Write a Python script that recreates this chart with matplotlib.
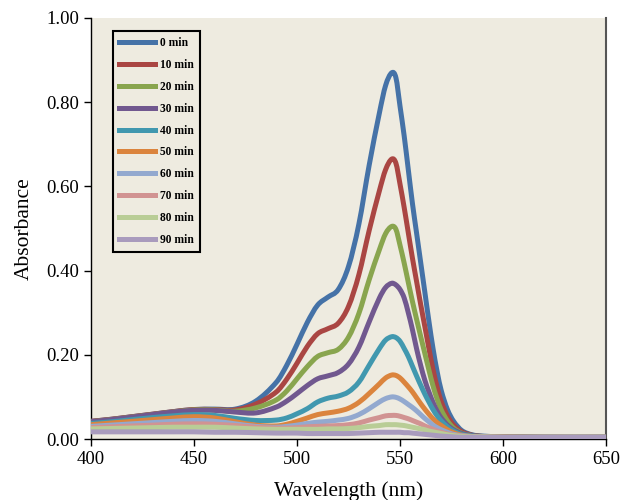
import numpy as np
import matplotlib
matplotlib.use("Agg")
import matplotlib.pyplot as plt
from matplotlib.path import Path
from matplotlib.patches import PathPatch

# wavelength grid (nm)
wavelength = [400, 410, 420, 430, 440, 450, 460, 470, 480, 490,
              495, 500, 505, 510, 515, 520, 525, 530, 535, 540,
              543, 546, 548, 550, 552, 554, 556, 558, 560, 562,
              564, 566, 568, 570, 573, 576, 580, 585, 590, 600,
              620, 650]

labels = ["0 min", "10 min", "20 min", "30 min", "40 min",
          "50 min", "60 min", "70 min", "80 min", "90 min"]

a_0 = [.042, .047, .053, .059, .065, .070, .071, .071, .090, .135,
       .175, .225, .277, .318, .337, .355, .410, .510, .650, .775,
       .840, .870, .858, .790, .720, .640, .560, .490, .420, .350,
       .280, .215, .160, .115, .070, .042, .020, .010, .007, .005,
       .004, .004]
a_10 = [.042, .047, .053, .059, .065, .070, .070, .069, .083, .112,
        .142, .180, .220, .250, .262, .275, .315, .390, .495, .590,
        .640, .665, .655, .605, .550, .490, .430, .375, .320, .268,
        .215, .165, .123, .089, .055, .033, .017, .009, .006, .005,
        .004, .004]
a_20 = [.041, .046, .052, .058, .064, .069, .069, .066, .074, .093,
        .114, .143, .172, .196, .205, .213, .242, .298, .378, .450,
        .488, .505, .498, .460, .418, .372, .327, .285, .244, .204,
        .164, .126, .095, .069, .043, .026, .014, .008, .006, .005,
        .004, .004]
a_30 = [.041, .046, .052, .058, .064, .068, .068, .064, .062, .076,
        .090, .108, .127, .143, .150, .158, .178, .218, .278, .335,
        .360, .370, .366, .355, .335, .300, .260, .215, .175, .140,
        .112, .087, .066, .050, .033, .022, .013, .008, .006, .005,
        .004, .004]
a_40 = [.037, .041, .046, .051, .055, .058, .056, .049, .044, .045,
        .050, .060, .072, .088, .097, .102, .112, .135, .175, .215,
        .235, .243, .241, .232, .215, .196, .173, .150, .128, .107,
        .088, .070, .055, .043, .029, .019, .011, .007, .005, .005,
        .004, .004]
a_50 = [.034, .038, .042, .046, .050, .053, .050, .041, .033, .031,
        .035, .042, .050, .058, .062, .066, .073, .087, .108, .131,
        .145, .152, .151, .145, .135, .124, .112, .098, .084, .071,
        .059, .048, .039, .032, .022, .015, .009, .006, .005, .005,
        .004, .004]
a_60 = [.030, .033, .036, .039, .042, .044, .042, .036, .030, .028,
        .030, .033, .037, .040, .042, .045, .049, .058, .072, .088,
        .096, .100, .099, .095, .089, .082, .075, .067, .058, .049,
        .041, .033, .027, .022, .016, .011, .008, .006, .005, .004,
        .004, .004]
a_70 = [.027, .029, .031, .033, .035, .036, .035, .032, .028, .026,
        .026, .027, .029, .030, .031, .032, .034, .038, .045, .051,
        .055, .056, .056, .054, .051, .048, .044, .040, .036, .031,
        .027, .023, .019, .016, .012, .009, .007, .005, .005, .004,
        .004, .004]
a_80 = [.024, .025, .026, .027, .028, .028, .028, .026, .024, .023,
        .023, .023, .023, .023, .024, .024, .025, .027, .030, .032,
        .034, .034, .034, .033, .032, .030, .028, .026, .024, .022,
        .019, .017, .015, .013, .010, .008, .006, .005, .005, .004,
        .004, .004]
a_90 = [.017, .017, .017, .017, .017, .017, .016, .016, .015, .014,
        .014, .014, .013, .013, .013, .013, .013, .014, .015, .016,
        .016, .016, .016, .016, .015, .015, .014, .013, .012, .011,
        .010, .009, .008, .007, .006, .005, .004, .004, .004, .004,
        .004, .004]

series = [a_0, a_10, a_20, a_30, a_40, a_50, a_60, a_70, a_80, a_90]
colors = ["#4572A7", "#AA4643", "#89A54E", "#71588F", "#4198AF",
          "#DB843D", "#93A9CF", "#D19392", "#B9CD96", "#A99BBD"]


def smooth_path(x, y):
    # cubic Hermite curve through the points, drawn as bezier segments
    x = np.asarray(x, float)
    y = np.asarray(y, float)
    n = len(x)
    m = np.empty(n)
    m[1:-1] = (y[2:] - y[:-2]) / (x[2:] - x[:-2])
    m[0] = (y[1] - y[0]) / (x[1] - x[0])
    m[-1] = (y[-1] - y[-2]) / (x[-1] - x[-2])
    verts = [(x[0], y[0])]
    codes = [Path.MOVETO]
    for i in range(n - 1):
        h = x[i + 1] - x[i]
        verts += [(x[i] + h / 3, y[i] + m[i] * h / 3),
                  (x[i + 1] - h / 3, y[i + 1] - m[i + 1] * h / 3),
                  (x[i + 1], y[i + 1])]
        codes += [Path.CURVE4] * 3
    return Path(verts, codes)


plt.rcParams['font.family'] = ['Liberation Serif', 'DejaVu Serif']

fig = plt.figure(figsize=(6.21, 5.0), dpi=100)
ax = fig.add_axes([0.1465, 0.122, 0.8295, 0.842])
ax.set_facecolor("#EEEBE0")

for vals, c, lab in zip(series, colors, labels):
    patch = PathPatch(smooth_path(wavelength, vals), facecolor="none", edgecolor=c,
                      lw=3.6, joinstyle="round", capstyle="butt", zorder=3)
    ax.add_patch(patch)
    ax.plot([], [], color=c, lw=3.6, label=lab)

ax.set_xlim(400, 650)
ax.set_ylim(0, 1.0)
ax.set_xticks([400, 450, 500, 550, 600, 650])
ax.set_yticks(np.arange(0, 1.01, 0.2))
ax.yaxis.set_major_formatter(plt.FormatStrFormatter("%.2f"))
ax.tick_params(direction="out", length=5, width=1, labelsize=13.5, colors="black")

ax.spines["top"].set_visible(False)
ax.spines["right"].set_color("#555555")
ax.spines["right"].set_linewidth(1.5)
ax.spines["left"].set_linewidth(1)
ax.spines["bottom"].set_linewidth(1)

ax.set_xlabel("Wavelength (nm)", fontsize=15.5, labelpad=10)
ax.set_ylabel("Absorbance", fontsize=15.5, labelpad=9)

leg = ax.legend(loc="upper left", bbox_to_anchor=(0.043, 0.969), borderaxespad=0,
                prop={"weight": "bold", "size": 8.3}, handlelength=3.1,
                handletextpad=0.4, labelspacing=0.85, fancybox=False,
                framealpha=1, facecolor="#EEEBE0", edgecolor="black",
                borderpad=0.55)
leg.get_frame().set_linewidth(1.5)

fig.savefig("out.png", dpi=100)
